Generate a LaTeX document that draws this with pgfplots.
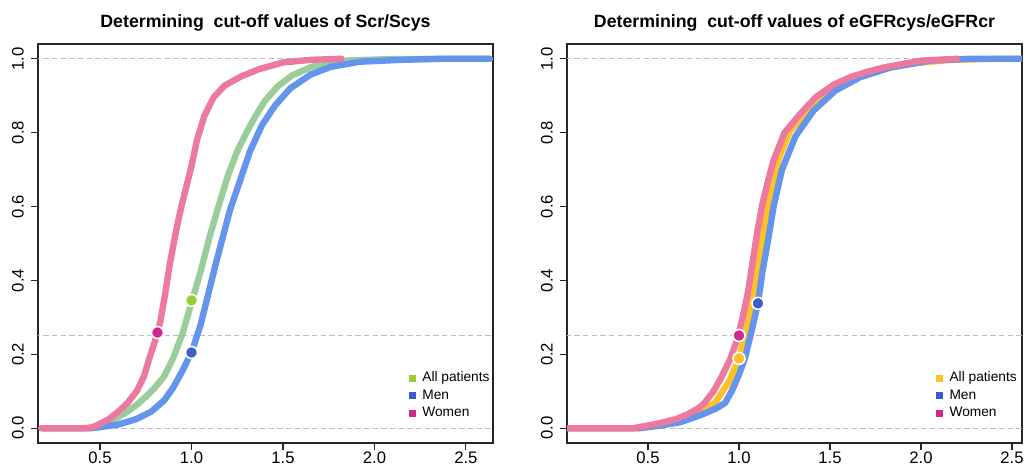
\documentclass[border=0pt]{standalone}
\usepackage{fontspec}
\setmainfont{Liberation Sans}
\usepackage{pgfplots}
\pgfplotsset{compat=1.18}
\definecolor{cpink}{HTML}{EE799F}
\definecolor{cblue}{HTML}{6495ED}
\definecolor{cgreen}{HTML}{9BCD9B}
\definecolor{cyellow}{HTML}{FFC125}
\definecolor{dgreen}{HTML}{9ACD32}
\definecolor{dblue}{HTML}{3A5FCD}
\definecolor{dpink}{HTML}{CD2990}
\definecolor{dyellow}{HTML}{FFC125}
\definecolor{gridgray}{HTML}{BEBEBE}

\pgfplotstableread{
x y
0.18 0
0.44 0
0.47 0.005
0.50 0.012
0.55 0.025
0.60 0.045
0.65 0.068
0.70 0.10
0.74 0.14
0.77 0.19
0.80 0.235
0.83 0.29
0.855 0.36
0.88 0.44
0.91 0.52
0.94 0.59
0.97 0.65
1.00 0.71
1.03 0.78
1.07 0.845
1.12 0.895
1.18 0.927
1.27 0.952
1.37 0.972
1.50 0.99
1.65 0.997
1.82 1.0
}\leftwomen
\pgfplotstableread{
x y
0.18 0
0.40 0
0.45 0.002
0.50 0.008
0.55 0.017
0.60 0.03
0.65 0.045
0.70 0.063
0.75 0.085
0.80 0.11
0.85 0.14
0.90 0.19
0.95 0.255
1.00 0.34
1.05 0.425
1.10 0.52
1.15 0.605
1.20 0.685
1.25 0.75
1.30 0.80
1.35 0.845
1.40 0.885
1.47 0.925
1.55 0.955
1.65 0.977
1.75 0.99
1.87 0.996
2.10 0.999
2.63 1.0
}\leftall
\pgfplotstableread{
x y
0.18 0
0.45 0
0.50 0.003
0.60 0.01
0.70 0.025
0.78 0.045
0.85 0.075
0.90 0.11
0.95 0.155
1.00 0.205
1.05 0.28
1.09 0.36
1.13 0.44
1.17 0.515
1.21 0.59
1.265 0.67
1.32 0.75
1.385 0.82
1.456 0.873
1.54 0.92
1.65 0.957
1.76 0.978
1.92 0.992
2.14 0.997
2.36 1.0
2.63 1.0
}\leftmen
\pgfplotstableread{
x y
0.06 0
0.42 0
0.46 0.004
0.55 0.012
0.65 0.024
0.72 0.038
0.78 0.055
0.81 0.068
0.86 0.10
0.90 0.135
0.95 0.185
0.99 0.24
1.02 0.30
1.05 0.37
1.075 0.45
1.10 0.53
1.13 0.61
1.16 0.67
1.19 0.725
1.25 0.80
1.335 0.85
1.42 0.895
1.52 0.93
1.62 0.952
1.70 0.964
1.80 0.977
1.89 0.985
2.00 0.995
2.20 1.0
}\rightwomen
\pgfplotstableread{
x y
0.06 0
0.45 0
0.566 0.01
0.73 0.03
0.868 0.068
0.95 0.13
1.00 0.19
1.04 0.265
1.07 0.338
1.10 0.427
1.126 0.51
1.16 0.60
1.214 0.724
1.28 0.805
1.39 0.865
1.53 0.92
1.69 0.957
1.885 0.984
2.16 0.997
2.43 1.0
2.55 1.0
}\rightall
\pgfplotstableread{
x y
0.06 0
0.45 0
0.55 0.006
0.676 0.016
0.786 0.035
0.868 0.052
0.923 0.068
0.96 0.10
1.00 0.145
1.033 0.19
1.07 0.265
1.104 0.338
1.13 0.427
1.16 0.51
1.19 0.60
1.236 0.70
1.31 0.79
1.41 0.86
1.53 0.914
1.665 0.95
1.83 0.976
2.05 0.995
2.27 1.0
2.55 1.0
}\rightmen

\pgfplotsset{
  curve/.style={line width=4.8pt, line cap=round, line join=round, forget plot},
  hl/.style={gridgray, line width=0.75pt, dash pattern=on 4pt off 2.5pt, forget plot},
  dot/.style={only marks, mark=*, mark size=4.5pt, mark options={fill=#1, draw=white, line width=1.2pt}, forget plot},
  sqimg/.style={legend image code/.code={\fill[#1] (0pt,-2.3pt) rectangle (4.6pt,2.3pt);}},
  myaxis/.style={
    scale only axis, width=341.25pt, height=299.25pt,
    anchor=south west,
    ymin=-0.04, ymax=1.04,
    axis line style={line width=0.8pt, black!85},
    tick style={line width=0.8pt, black!85},
    tick align=outside, major tick length=5pt,
    xtick pos=bottom, ytick pos=left,
    ytick={0,0.2,0.4,0.6,0.8,1.0},
    yticklabels={0.0,0.2,0.4,0.6,0.8,1.0},
    xtick={0.5,1,1.5,2,2.5},
    xticklabels={0.5,1.0,1.5,2.0,2.5},
    ticklabel style={font=\fontsize{12.5}{14}\selectfont},
    yticklabel style={rotate=90, anchor=base},
    xticklabel style={anchor=base},
    yticklabel shift=5.75pt,
    xticklabel shift=10.2pt,
    title style={at={(0.5,1)}, anchor=base, yshift=6pt, font=\bfseries\fontsize{13.3}{15}\selectfont},
    legend style={anchor=north west, draw=none, fill=none, inner sep=0pt,
      row sep=0pt, font=\fontsize{10.3}{12}\selectfont,
      nodes={inner sep=1.2pt, text height=8pt, text depth=2.7pt},
      /tikz/every odd column/.append style={column sep=3.75pt}},
    legend cell align=left,
  }
}

\begin{document}
\begin{tikzpicture}
\useasboundingbox (0pt,0pt) rectangle (772.5pt,349.5pt);
\begin{axis}[myaxis, at={(28.5pt,17.25pt)}, xmin=0.161, xmax=2.648,
  title={Determining\ \ cut-off values of Scr/Scys},
  legend style={at={(0.815,0.185)}}]
\addplot[hl] coordinates {(0,0) (3,0)};
\addplot[hl] coordinates {(0,0.25) (3,0.25)};
\addplot[hl] coordinates {(0,1) (3,1)};
\addplot[curve, cgreen] table {\leftall};
\addplot[curve, cblue] table {\leftmen};
\addplot[curve, cpink] table {\leftwomen};
\addplot[dot=dgreen] coordinates {(1.0,0.346)};
\addplot[dot=dblue] coordinates {(1.0,0.205)};
\addplot[dot=dpink] coordinates {(0.814,0.259)};
\addlegendimage{sqimg=dgreen}\addlegendentry{All patients}
\addlegendimage{sqimg=dblue}\addlegendentry{Men}
\addlegendimage{sqimg=dpink}\addlegendentry{Women}
\end{axis}
\begin{axis}[myaxis, at={(425.25pt,17.25pt)}, xmin=0.055, xmax=2.555,
  title={Determining\ \ cut-off values of eGFRcys/eGFRcr},
  legend style={at={(0.811,0.185)}}]
\addplot[hl] coordinates {(0,0) (3,0)};
\addplot[hl] coordinates {(0,0.25) (3,0.25)};
\addplot[hl] coordinates {(0,1) (3,1)};
\addplot[curve, cyellow] table {\rightall};
\addplot[curve, cblue] table {\rightmen};
\addplot[curve, cpink] table {\rightwomen};
\addplot[dot=dyellow] coordinates {(1.0,0.189)};
\addplot[dot=dblue] coordinates {(1.104,0.338)};
\addplot[dot=dpink] coordinates {(1.0,0.251)};
\addlegendimage{sqimg=dyellow}\addlegendentry{All patients}
\addlegendimage{sqimg=dblue}\addlegendentry{Men}
\addlegendimage{sqimg=dpink}\addlegendentry{Women}
\end{axis}
\end{tikzpicture}
\end{document}
